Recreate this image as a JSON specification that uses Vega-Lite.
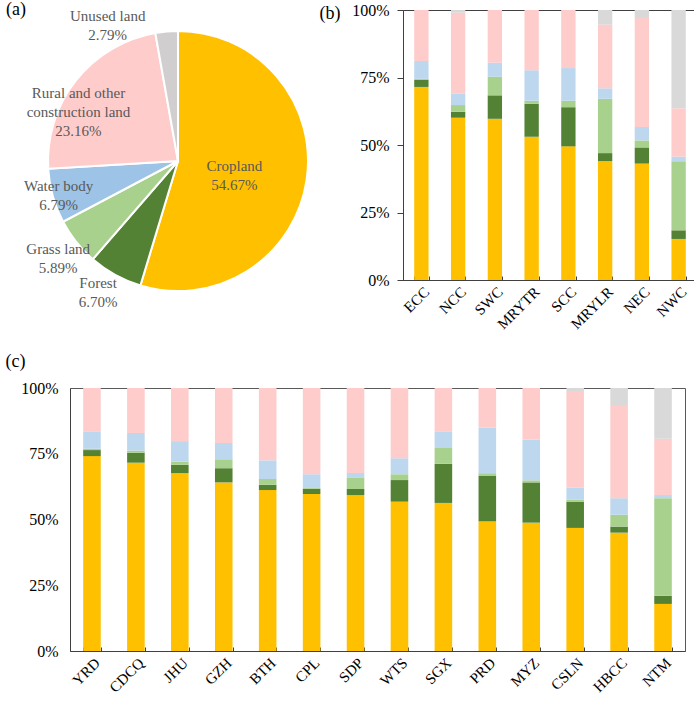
{
  "$schema": "https://vega.github.io/schema/vega-lite/v6.json",
  "padding": {"left": 4, "top": 0, "right": 0, "bottom": 0},
  "background": "white",
  "config": {
    "font": "Liberation Serif",
    "view": {"stroke": null},
    "axis": {"labelFont": "Liberation Serif", "titleFont": "Liberation Serif", "grid": false, "domainColor": "#404040", "tickColor": "#404040", "labelColor": "#000000", "titleColor": "#000000"}
  },
  "datasets": {
    "pie": [
      {"class": "Cropland", "label": "Cropland", "pct": 54.67},
      {"class": "Forest", "label": "Forest", "pct": 6.70},
      {"class": "Grass land", "label": "Grass land", "pct": 5.89},
      {"class": "Water body", "label": "Water body", "pct": 6.79},
      {"class": "Rural and other construction land", "label": "Rural and other\nconstruction land", "pct": 23.16},
      {"class": "Unused land", "label": "Unused land", "pct": 2.79}
    ],
    "b": [
      {"region": "ECC", "Cropland": 71.5, "Forest": 2.7, "Grass land": 0.3, "Water body": 6.6, "Rural and other construction land": 18.9, "Unused land": 0},
      {"region": "NCC", "Cropland": 60.1, "Forest": 2.2, "Grass land": 2.5, "Water body": 4.3, "Rural and other construction land": 29.9, "Unused land": 1.0},
      {"region": "SWC", "Cropland": 59.7, "Forest": 8.7, "Grass land": 6.9, "Water body": 5.2, "Rural and other construction land": 19.5, "Unused land": 0},
      {"region": "MRYTR", "Cropland": 53.1, "Forest": 12.2, "Grass land": 1.1, "Water body": 11.3, "Rural and other construction land": 22.3, "Unused land": 0},
      {"region": "SCC", "Cropland": 49.5, "Forest": 14.5, "Grass land": 2.4, "Water body": 12.1, "Rural and other construction land": 21.5, "Unused land": 0},
      {"region": "MRYLR", "Cropland": 44.0, "Forest": 3.0, "Grass land": 20.1, "Water body": 3.9, "Rural and other construction land": 23.6, "Unused land": 5.4},
      {"region": "NEC", "Cropland": 43.1, "Forest": 6.0, "Grass land": 2.6, "Water body": 5.0, "Rural and other construction land": 40.3, "Unused land": 3.0},
      {"region": "NWC", "Cropland": 15.2, "Forest": 3.2, "Grass land": 25.6, "Water body": 1.7, "Rural and other construction land": 17.9, "Unused land": 36.4}
    ],
    "c": [
      {"region": "YRD", "Cropland": 74.1, "Forest": 2.3, "Grass land": 0.5, "Water body": 6.4, "Rural and other construction land": 16.7, "Unused land": 0},
      {"region": "CDCQ", "Cropland": 71.6, "Forest": 3.8, "Grass land": 0.8, "Water body": 6.7, "Rural and other construction land": 17.1, "Unused land": 0},
      {"region": "JHU", "Cropland": 67.6, "Forest": 3.2, "Grass land": 1.2, "Water body": 7.8, "Rural and other construction land": 20.2, "Unused land": 0},
      {"region": "GZH", "Cropland": 64.1, "Forest": 5.4, "Grass land": 3.4, "Water body": 6.2, "Rural and other construction land": 20.9, "Unused land": 0},
      {"region": "BTH", "Cropland": 61.2, "Forest": 2.0, "Grass land": 2.2, "Water body": 7.1, "Rural and other construction land": 27.5, "Unused land": 0},
      {"region": "CPL", "Cropland": 59.7, "Forest": 2.0, "Grass land": 0.3, "Water body": 5.2, "Rural and other construction land": 32.8, "Unused land": 0},
      {"region": "SDP", "Cropland": 59.3, "Forest": 2.3, "Grass land": 4.2, "Water body": 1.9, "Rural and other construction land": 32.3, "Unused land": 0},
      {"region": "WTS", "Cropland": 56.8, "Forest": 8.2, "Grass land": 2.2, "Water body": 6.1, "Rural and other construction land": 26.7, "Unused land": 0},
      {"region": "SGX", "Cropland": 56.3, "Forest": 14.9, "Grass land": 6.0, "Water body": 6.1, "Rural and other construction land": 16.7, "Unused land": 0},
      {"region": "PRD", "Cropland": 49.3, "Forest": 17.4, "Grass land": 0.9, "Water body": 17.3, "Rural and other construction land": 15.1, "Unused land": 0},
      {"region": "MYZ", "Cropland": 48.8, "Forest": 15.3, "Grass land": 0.8, "Water body": 15.4, "Rural and other construction land": 19.7, "Unused land": 0},
      {"region": "CSLN", "Cropland": 46.8, "Forest": 10.0, "Grass land": 0.7, "Water body": 4.6, "Rural and other construction land": 36.4, "Unused land": 1.5},
      {"region": "HBCC", "Cropland": 45.0, "Forest": 2.3, "Grass land": 4.5, "Water body": 6.3, "Rural and other construction land": 35.4, "Unused land": 6.5},
      {"region": "NTM", "Cropland": 17.9, "Forest": 3.1, "Grass land": 37.1, "Water body": 1.2, "Rural and other construction land": 21.4, "Unused land": 19.3}
    ]
  },
  "resolve": {"scale": {"color": "independent"}},
  "spacing": 18,
  "vconcat": [
    {
      "spacing": 6,
      "resolve": {"scale": {"color": "independent"}},
      "hconcat": [
        {
          "width": 216,
          "height": 302,
          "title": {"text": "(a)", "anchor": "start", "frame": "group", "dx": -64, "dy": 10, "offset": 0, "fontSize": 18, "fontWeight": "normal", "font": "Liberation Serif", "color": "#000000"},
          "data": {"name": "pie"},
          "transform": [
            {"calculate": "datum.label + '\\n' + format(datum.pct, '.2f') + '%'", "as": "txt"},
            {"calculate": "indexof(['Cropland','Forest','Grass land','Water body','Rural and other construction land','Unused land'], datum.class)", "as": "seq"}
          ],
          "encoding": {
            "theta": {"field": "pct", "type": "quantitative", "stack": true},
            "order": {"field": "seq", "type": "quantitative"}
          },
          "layer": [
            {
              "mark": {"type": "arc", "radius": 130, "stroke": "white", "strokeWidth": 2},
              "encoding": {
                "color": {"field": "class", "type": "nominal", "legend": null,
                  "scale": {"domain": ["Cropland", "Forest", "Grass land", "Water body", "Rural and other construction land", "Unused land"],
                            "range": ["#FFC000", "#548235", "#A9D18E", "#9DC3E6", "#FFCCCC", "#D0CECE"]}}
              }
            },
            {
              "mark": {"type": "text", "lineBreak": "\n", "fontSize": 15, "lineHeight": 19, "color": "#595959", "align": "center", "baseline": "middle",
                "radius": {"expr": "datum.class === 'Cropland' ? 57 : datum.class === 'Water body' ? 124 : datum.class === 'Rural and other construction land' ? 100 : datum.class === 'Unused land' ? 140 : 153"},
                "dx": {"expr": "datum.class === 'Rural and other construction land' ? -21 : datum.class === 'Unused land' ? -58 : datum.class === 'Forest' ? -6 : 0"},
                "dy": {"expr": "datum.class === 'Rural and other construction land' ? -6 : datum.class === 'Unused land' ? -6 : datum.class === 'Cropland' ? -3 : datum.class === 'Water body' ? -8 : datum.class === 'Grass land' ? -7 : -12"}},
              "encoding": {"text": {"field": "txt", "type": "nominal"}}
            }
          ]
        },
        {
          "width": 294,
          "height": 270,
          "view": {"stroke": "#404040"},
          "data": {"name": "b"},
          "transform": [
            {"fold": ["Cropland", "Forest", "Grass land", "Water body", "Rural and other construction land", "Unused land"], "as": ["class", "pct"]},
            {"calculate": "indexof(['Cropland','Forest','Grass land','Water body','Rural and other construction land','Unused land'], datum.class)", "as": "seq"}
          ],
          "mark": {"type": "bar"},
          "encoding": {
            "x": {"field": "region", "type": "nominal", "sort": null, "scale": {"paddingInner": 0.61},
              "axis": {"title": null, "labelAngle": -45, "labelFontSize": 15, "ticks": true, "tickSize": -4, "tickBand": "extent", "labelPadding": 8}},
            "y": {"field": "pct", "type": "quantitative", "stack": "normalize", "scale": {"domain": [0, 1], "nice": false},
              "axis": {"title": "(b)", "titleAngle": 0, "titleX": -84, "titleY": 3, "titleAlign": "left", "titleBaseline": "middle", "titleFontSize": 18, "titleFontWeight": "normal",
                "values": [0, 0.25, 0.5, 0.75, 1], "format": ".0%", "labelFontSize": 16, "tickSize": 6, "labelPadding": 8}},
            "color": {"field": "class", "type": "nominal", "legend": null,
              "scale": {"domain": ["Cropland", "Forest", "Grass land", "Water body", "Rural and other construction land", "Unused land"],
                        "range": ["#FFC000", "#548235", "#A9D18E", "#BDD7EE", "#FFCCCC", "#D9D9D9"]}},
            "order": {"field": "seq", "type": "quantitative"}
          }
        }
      ]
    },
    {
      "width": 615,
      "height": 263,
      "view": {"stroke": "#595959"},
      "data": {"name": "c"},
      "transform": [
        {"fold": ["Cropland", "Forest", "Grass land", "Water body", "Rural and other construction land", "Unused land"], "as": ["class", "pct"]},
        {"calculate": "indexof(['Cropland','Forest','Grass land','Water body','Rural and other construction land','Unused land'], datum.class)", "as": "seq"}
      ],
      "mark": {"type": "bar"},
      "encoding": {
        "x": {"field": "region", "type": "nominal", "sort": null, "scale": {"paddingInner": 0.6},
          "axis": {"title": null, "labelAngle": -45, "labelFontSize": 15, "ticks": true, "tickSize": -4, "tickBand": "extent", "labelPadding": 8}},
        "y": {"field": "pct", "type": "quantitative", "stack": "normalize", "scale": {"domain": [0, 1], "nice": false},
          "axis": {"title": "(c)", "titleAngle": 0, "titleX": -65, "titleY": -27, "titleAlign": "left", "titleBaseline": "middle", "titleFontSize": 18, "titleFontWeight": "normal",
            "values": [0, 0.25, 0.5, 0.75, 1], "format": ".0%", "labelFontSize": 16, "ticks": false, "labelPadding": 12}},
        "color": {"field": "class", "type": "nominal", "legend": null,
          "scale": {"domain": ["Cropland", "Forest", "Grass land", "Water body", "Rural and other construction land", "Unused land"],
                    "range": ["#FFC000", "#548235", "#A9D18E", "#BDD7EE", "#FFCCCC", "#D9D9D9"]}},
        "order": {"field": "seq", "type": "quantitative"}
      }
    }
  ]
}
